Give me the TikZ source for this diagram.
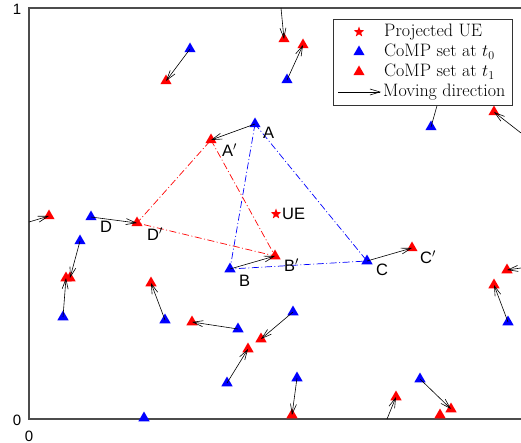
\documentclass[tikz,border=0pt]{standalone}
\usepackage{fontspec}
\newfontfamily\labfont{Liberation Sans}
\usetikzlibrary{arrows.meta,shapes.geometric}
\begin{document}
\begin{tikzpicture}[x=1pt,y=-1pt,
  bt/.style={regular polygon,regular polygon sides=3,minimum size=13pt,inner sep=0pt,fill=blue,draw=none},
  rt/.style={regular polygon,regular polygon sides=3,minimum size=13pt,inner sep=0pt,fill=red,draw=none},
  ue/.style={star,star points=5,star point ratio=2.4,minimum size=11pt,inner sep=0pt,fill=red,draw=none},
  mv/.style={-{Straight Barb[length=10pt,width=6pt]},line width=0.6pt,black},
  bdash/.style={blue,line width=0.7pt,dash pattern=on 7pt off 2.5pt on 1pt off 2.5pt},
  rdash/.style={red,line width=0.7pt,dash pattern=on 7pt off 2.5pt on 1pt off 2.5pt},
  lab/.style={font=\labfont\fontsize{16.5}{18}\selectfont,inner sep=0pt,anchor=west},
  tick/.style={font=\labfont\fontsize{15}{17}\selectfont,inner sep=0pt},
  axis/.style={line width=1.1pt,black!70},
  leg/.style={font=\fontsize{18}{20}\selectfont,inner sep=0pt,anchor=west}]
\useasboundingbox (0,0) rectangle (521,443);
% axes
\coordinate (tl) at (29,8);
\coordinate (tr) at (521,8);
\coordinate (bl) at (29,419);
\coordinate (br) at (521,419);
\draw[axis] (tr) -- (tl) -- (bl) -- (br);
\node[tick] (y1) at (17,9) {1};
\node[tick] (y0) at (17,420) {0};
\node[tick] (x0) at (29,436) {0};
% blue markers (t0)
\node[bt] (b1) at (287,80) {};
\node[bt] (b2) at (190,49) {};
\node[bt] (bA) at (255,124) {};
\node[bt] (b3) at (431,127) {};
\node[bt] (bD) at (91,217) {};
\node[bt] (b4) at (80,241) {};
\node[bt] (b5) at (63,317) {};
\node[bt] (b6) at (165,320) {};
\node[bt] (b7) at (238,329) {};
\node[bt] (b8) at (227,383) {};
\node[bt] (b9) at (293,312) {};
\node[bt] (b10) at (297,378) {};
\node[bt] (b11) at (420,379) {};
\node[bt] (b12) at (144,418) {};
\node[bt] (bB) at (230,269) {};
\node[bt] (bC) at (367,261) {};
\node[bt] (b13) at (508,322) {};
% red markers (t1)
\node[rt] (r1) at (303,45) {};
\node[rt] (r2) at (166,81) {};
\node[rt] (rA) at (211,140) {};
\node[rt] (rD) at (137,223) {};
\node[rt] (r4) at (70,278) {};
\node[rt] (r5) at (66,278) {};
\node[rt] (r6) at (151,283) {};
\node[rt] (r7) at (192,322) {};
\node[rt] (r8) at (248,349) {};
\node[rt] (r9) at (261,339) {};
\node[rt] (r10) at (292,415) {};
\node[rt] (r11) at (451,409) {};
\node[rt] (rB) at (275,256) {};
\node[rt] (rC) at (412,248) {};
\node[rt] (r13) at (494,285) {};
\node[rt] (r14) at (284,39) {};
\node[rt] (r15) at (494,112) {};
\node[rt] (r16) at (49,216) {};
\node[rt] (r17) at (396,397) {};
\node[rt] (r18) at (507,270) {};
\node[rt] (r19) at (440,415) {};
% CoMP sets
\draw[bdash] (bA.center) -- (bB.center) -- (bC.center) -- (bA.center);
\draw[rdash] (rA.center) -- (rB.center) -- (rD.center) -- (rA.center);
% UE
\node[ue] (ue) at (276,214) {};
\node[lab] (uel) at (282,214) {UE};
% moving directions
\coordinate (o3) at (440,95);
\coordinate (o14) at (281,8);
\coordinate (o15) at (521,133);
\coordinate (o16) at (29,222);
\coordinate (o17) at (387,419);
\coordinate (o18) at (521,268);
\foreach \a/\b in {b1/r1,b2/r2,bA/rA,bD/rD,b4/r4,b5/r5,b6/r6,b7/r7,b8/r8,b9/r9,b10/r10,b11/r11,bB/rB,bC/rC,b13/r13}
  \draw[mv] (\a.center) -- (\b.center);
\foreach \a/\b in {o14/r14,o15/r15,o16/r16,o17/r17,o18/r18}
  \draw[mv] (\a) -- (\b.center);
\draw[line width=0.6pt] (b3.center) -- (o3);
% labels
\node[lab] (lA) at (263,133) {A};
\node[lab] (lAp) at (222,150) {A$'$};
\node[lab] (lB) at (239,281) {B};
\node[lab] (lBp) at (284,265) {B$'$};
\node[lab] (lC) at (376,270) {C};
\node[lab] (lCp) at (420,257) {C$'$};
\node[lab] (lD) at (100,227) {D};
\node[lab] (lDp) at (147,234) {D$'$};
% legend
\node[draw=black!80,fill=white,line width=0.6pt,minimum width=179pt,minimum height=86pt,inner sep=0pt] (legbox) at (422.5,62) {};
\node[ue] (lg1) at (359,32) {};
\node[bt] (lg2) at (359,52) {};
\node[rt] (lg3) at (359,72) {};
\coordinate (lga) at (338,92);
\coordinate (lgb) at (381,92);
\draw[mv] (lga) -- (lgb);
\node[leg] (lt1) at (384,32) {Projected UE};
\node[leg] (lt2) at (384,52) {CoMP set at $t_0$};
\node[leg] (lt3) at (384,72) {CoMP set at $t_1$};
\node[leg] (lt4) at (383,92) {Moving direction};
\end{tikzpicture}
\end{document}
